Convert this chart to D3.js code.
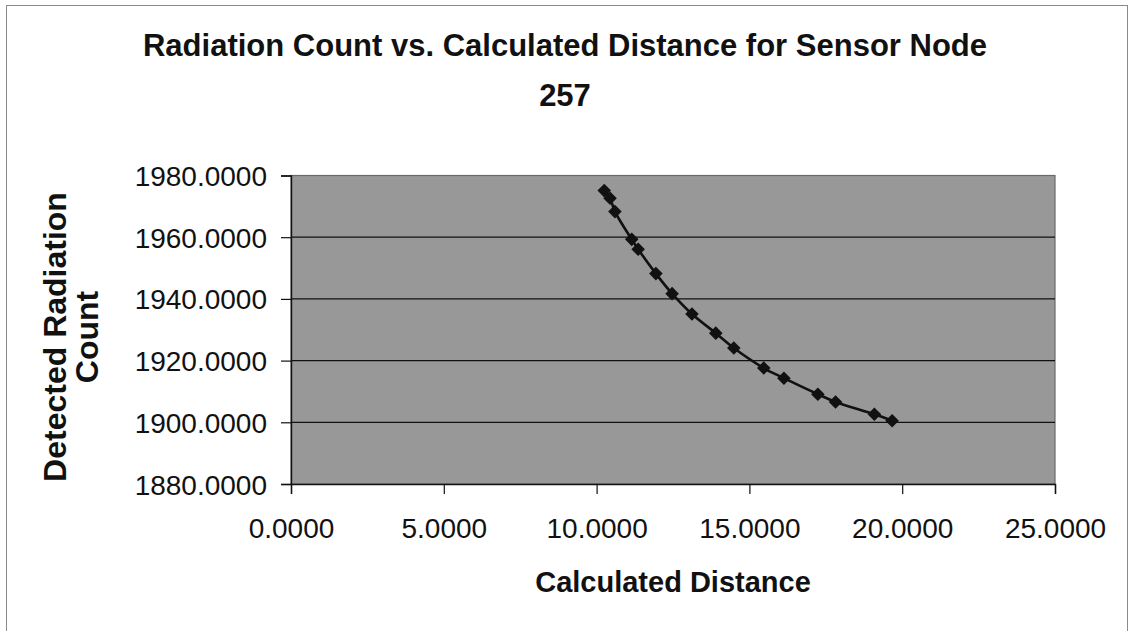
<!DOCTYPE html>
<html>
<head>
<meta charset="utf-8">
<script src="https://cdn.jsdelivr.net/npm/d3@7"></script>
<style>
  html, body { margin: 0; padding: 0; background: #fff; }
  svg { display: block; }
  text { font-family: "Liberation Sans", Arial, sans-serif; fill: #111; }
</style>
</head>
<body>
<svg id="chart" width="1129" height="631"></svg>
<script>
// Calculated distance from the source and detected radiation count, sensor node 257
const distance = [10.25, 10.44, 10.60, 11.15, 11.36, 11.94, 12.47, 13.12,
                  13.90, 14.49, 15.47, 16.13, 17.24, 17.82, 19.09, 19.67];
const count    = [1975.1, 1972.6, 1968.3, 1959.3, 1956.1, 1948.2, 1941.7, 1935.1,
                  1928.9, 1924.1, 1917.6, 1914.3, 1909.1, 1906.6, 1902.6, 1900.5];
const xTicks = [0, 5, 10, 15, 20, 25];
const yTicks = [1880, 1900, 1920, 1940, 1960, 1980];
const titleLines = ["Radiation Count vs. Calculated Distance for Sensor Node", "257"];
const xTitle = "Calculated Distance";
const yTitleLines = ["Detected Radiation", "Count"];

const svg = d3.select("#chart");
const plot = { left: 291, right: 1055, top: 175.5, bottom: 484 };

const x = d3.scaleLinear().domain([0, 25]).range([plot.left, plot.right]);
const y = d3.scaleLinear().domain([1880, 1980]).range([plot.bottom, plot.top]);
const fmt = d3.format(".4f");

// outer chart frame
svg.append("rect")
  .attr("x", 6.5).attr("y", 5.5).attr("width", 1121).attr("height", 640)
  .attr("fill", "#fff").attr("stroke", "#8a8a8a").attr("stroke-width", 1);

// plot area
svg.append("rect")
  .attr("x", plot.left).attr("y", plot.top)
  .attr("width", plot.right - plot.left).attr("height", plot.bottom - plot.top)
  .attr("fill", "#989898").attr("stroke", "#6a6a6a").attr("stroke-width", 1.2);

// horizontal gridlines
svg.append("g").selectAll("line")
  .data(yTicks.filter(v => v > 1880 && v < 1980))
  .join("line")
  .attr("x1", plot.left).attr("x2", plot.right)
  .attr("y1", d => y(d)).attr("y2", d => y(d))
  .attr("stroke", "#111").attr("stroke-width", 1.2);

// axes
const yAxis = d3.axisLeft(y).tickValues(yTicks).tickFormat(fmt).tickSize(10).tickPadding(14);
const xAxis = d3.axisBottom(x).tickValues(xTicks).tickFormat(fmt).tickSize(10).tickPadding(24);

const gy = svg.append("g").attr("transform", `translate(${plot.left},0)`).call(yAxis);
const gx = svg.append("g").attr("transform", `translate(0,${plot.bottom})`).call(xAxis);
[gx, gy].forEach(g => {
  g.select(".domain").attr("stroke", "#111").attr("stroke-width", 1.4);
  g.selectAll(".tick line").attr("stroke", "#111").attr("stroke-width", 1.2);
  g.selectAll(".tick text")
    .attr("font-family", "'Liberation Sans', Arial, sans-serif")
    .attr("font-size", 28).attr("fill", "#1a1a1a");
});
gy.selectAll(".tick text").attr("dy", "0.36em");
gx.selectAll(".tick text").attr("dy", "0.72em");

// series line (smoothed) and diamond markers
const pts = distance.map((d, i) => [d, count[i]]);
svg.append("path")
  .datum(pts)
  .attr("fill", "none").attr("stroke", "#111").attr("stroke-width", 2.6)
  .attr("d", d3.line().x(d => x(d[0])).y(d => y(d[1])).curve(d3.curveCatmullRom.alpha(0.5)));

svg.append("g").selectAll("path")
  .data(pts)
  .join("path")
  .attr("transform", d => `translate(${x(d[0])},${y(d[1])}) rotate(45)`)
  .attr("d", d3.symbol(d3.symbolSquare, 92))
  .attr("fill", "#111");

// titles
svg.append("text")
  .attr("text-anchor", "middle").attr("font-weight", "bold").attr("font-size", 31)
  .selectAll("tspan").data(titleLines).join("tspan")
  .attr("x", 565).attr("y", (d, i) => 56 + i * 50)
  .text(d => d);

svg.append("text")
  .attr("x", (plot.left + plot.right) / 2).attr("y", 592)
  .attr("text-anchor", "middle").attr("font-weight", "bold").attr("font-size", 29)
  .text(xTitle);

svg.append("text")
  .attr("transform", "rotate(-90)")
  .attr("text-anchor", "middle").attr("font-weight", "bold").attr("font-size", 32)
  .selectAll("tspan").data(yTitleLines).join("tspan")
  .attr("x", -337).attr("y", (d, i) => 66 + i * 32)
  .text(d => d);
</script>
</body>
</html>
